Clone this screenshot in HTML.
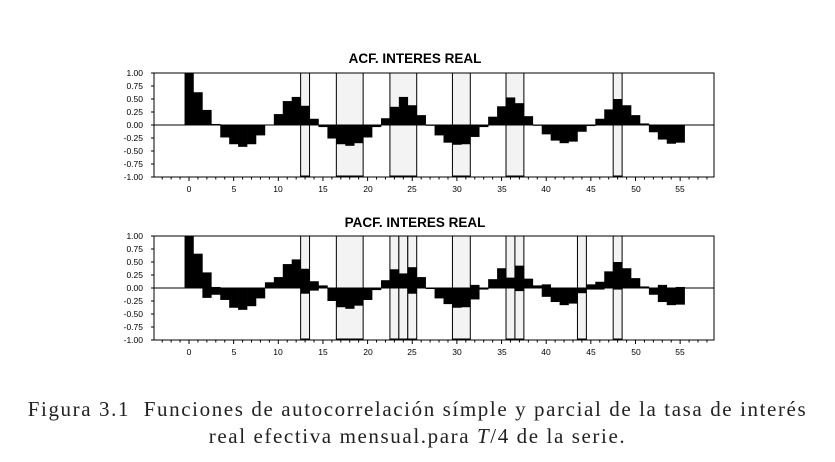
<!DOCTYPE html>
<html><head><meta charset="utf-8"><style>
html,body{margin:0;padding:0;background:#fff;width:835px;height:462px;overflow:hidden}
svg{position:absolute;left:0;top:0}
.cap{position:absolute;left:0;width:835px;text-align:center;font-family:"Liberation Serif",serif;font-size:21px;letter-spacing:1.6px;color:#222;white-space:nowrap}
</style></head><body>
<svg id="s" width="835" height="462" xmlns="http://www.w3.org/2000/svg" font-family="Liberation Sans, sans-serif">
<g id="g1"></g><g id="g2"></g>
<text x="415" y="63" font-size="13.5" font-weight="bold" text-anchor="middle">ACF. INTERES REAL</text>
<text x="415" y="227" font-size="13.5" font-weight="bold" text-anchor="middle">PACF. INTERES REAL</text>
<g font-size="8.5" text-anchor="end">
<text x="143" y="76">1.00</text><text x="143" y="89">0.75</text><text x="143" y="102">0.50</text><text x="143" y="115">0.25</text><text x="143" y="128">0.00</text><text x="143" y="141">-0.25</text><text x="143" y="154">-0.50</text><text x="143" y="167">-0.75</text><text x="143" y="180">-1.00</text>
<text x="143" y="239">1.00</text><text x="143" y="252">0.75</text><text x="143" y="265">0.50</text><text x="143" y="278">0.25</text><text x="143" y="291">0.00</text><text x="143" y="304">-0.25</text><text x="143" y="317">-0.50</text><text x="143" y="330">-0.75</text><text x="143" y="343">-1.00</text>
</g>
<g font-size="8.5" text-anchor="middle">
<text x="189" y="192">0</text><text x="234" y="192">5</text><text x="278" y="192">10</text><text x="323" y="192">15</text><text x="368" y="192">20</text><text x="412" y="192">25</text><text x="457" y="192">30</text><text x="502" y="192">35</text><text x="546" y="192">40</text><text x="591" y="192">45</text><text x="636" y="192">50</text><text x="680" y="192">55</text>
<text x="189" y="355">0</text><text x="234" y="355">5</text><text x="278" y="355">10</text><text x="323" y="355">15</text><text x="368" y="355">20</text><text x="412" y="355">25</text><text x="457" y="355">30</text><text x="502" y="355">35</text><text x="546" y="355">40</text><text x="591" y="355">45</text><text x="636" y="355">50</text><text x="680" y="355">55</text>
</g>
</svg>
<div class="cap" style="top:397px;">Figura 3.1&nbsp; Funciones de autocorrelación símple y parcial de la tasa de interés</div>
<div class="cap" style="top:424px;">real efectiva mensual.para <i>T</i>/4 de la serie.</div>
<script>
var NS="http://www.w3.org/2000/svg";
function X(l){return 189+l*8.93;}
function el(g,t,a){var e=document.createElementNS(NS,t);for(var k in a)e.setAttribute(k,a[k]);g.appendChild(e);return e;}
var acf=[1,.63,.29,.02,-.24,-.37,-.42,-.37,-.2,.01,.21,.46,.54,.37,.12,-.04,-.26,-.37,-.4,-.35,-.24,-.04,.13,.35,.54,.38,.19,-.01,-.2,-.34,-.38,-.37,-.23,-.04,.16,.36,.53,.42,.17,0,-.18,-.3,-.35,-.32,-.13,-.02,.12,.3,.5,.38,.19,.03,-.14,-.28,-.36,-.34];
var a1=acf.map(function(v){return [Math.min(v,0),Math.max(v,0)];});
var a2=[[0,1],[0,.66],[-.19,.3],[-.13,.02],[-.23,0],[-.38,0],[-.42,0],[-.35,0],[-.2,0],[0,.11],[0,.21],[0,.46],[0,.55],[-.11,.37],[-.05,.13],[0,.05],[-.25,0],[-.37,0],[-.4,0],[-.34,0],[-.23,0],[-.04,0],[0,.15],[0,.36],[0,.28],[-.11,.4],[0,.21],[-.02,0],[-.2,0],[-.31,0],[-.38,0],[-.37,0],[-.22,.06],[-.03,0],[0,.17],[0,.38],[0,.2],[-.06,.43],[0,.18],[0,.05],[-.17,.07],[-.27,0],[-.33,0],[-.3,0],[-.1,0],[-.03,.07],[-.03,.12],[0,.32],[-.03,.5],[0,.38],[0,.19],[0,.03],[-.13,0],[-.27,.06],[-.33,0],[-.32,.02]];
var sh1=[[12.5,13.5],[16.5,19.5],[22.5,25.5],[29.5,31.5],[35.5,37.5],[47.5,48.5]];
var sh2=[[12.5,13.5],[16.5,19.5],[22.5,23.5],[23.5,24.5],[24.5,25.5],[29.5,31.5],[35.5,36.5],[36.5,37.5],[43.5,44.5],[47.5,48.5]];
function chart(g,top,data,sh){
 var z=top+52,L=154,R=714,B=top+104;
 el(g,"rect",{x:L,y:top,width:R-L,height:104,fill:"#fff",stroke:"#000","stroke-width":1});
 sh.forEach(function(s){el(g,"rect",{x:X(s[0]),y:top,width:X(s[1])-X(s[0]),height:104,fill:"#f3f3f3",stroke:"#000","stroke-width":1});
  el(g,"line",{x1:X(s[0]),x2:X(s[1]),y1:B-0.5,y2:B-0.5,stroke:"#000","stroke-width":2});});
 data.forEach(function(d,i){var y1=z-52*d[1],y2=z-52*d[0];
  el(g,"rect",{x:X(i-0.5),y:y1,width:8.93+0.3,height:Math.max(y2-y1,0.8),fill:"#000"});});
 el(g,"line",{x1:L,x2:R,y1:z,y2:z,stroke:"#000","stroke-width":1});
 el(g,"rect",{x:L,y:top,width:R-L,height:104,fill:"none",stroke:"#000","stroke-width":1});
 for(var v=0;v<9;v++)el(g,"line",{x1:L-3,x2:L,y1:top+v*13,y2:top+v*13,stroke:"#000"});
 for(var l=-3;l<=58;l++){var x=X(l);if(x<L||x>R)continue;el(g,"line",{x1:x,x2:x,y1:B,y2:B+(l%5==0?4:2.5),stroke:"#000"});}
}
chart(document.getElementById("g1"),73,a1,sh1);
chart(document.getElementById("g2"),236,a2,sh2);
</script>
</body></html>
